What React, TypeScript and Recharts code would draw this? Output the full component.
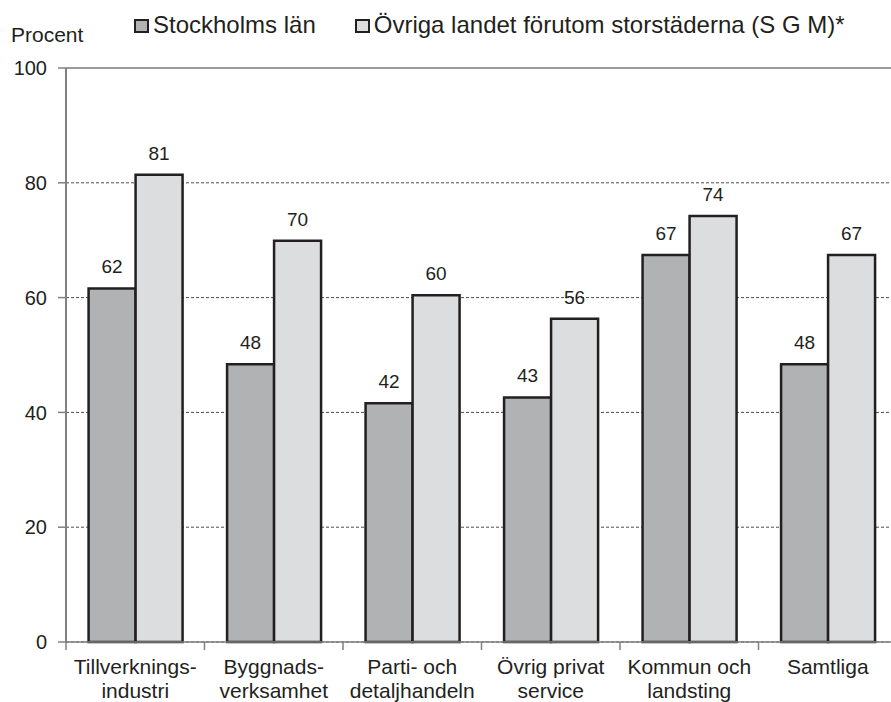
import React from "react"
import {
  Bar,
  BarChart,
  CartesianGrid,
  LabelList,
  Legend,
  ReferenceLine,
  XAxis,
  YAxis,
} from "recharts"

const categories = [
  "Tillverknings-\nindustri",
  "Byggnads-\nverksamhet",
  "Parti- och\ndetaljhandeln",
  "Övrig privat\nservice",
  "Kommun och\nlandsting",
  "Samtliga",
]
const stockholm = [61.6, 48.4, 41.6, 42.6, 67.4, 48.4]
const ovriga = [81.4, 69.9, 60.4, 56.3, 74.2, 67.4]
const yTicks = [0, 20, 40, 60, 80, 100]
const seriesNames = ["Stockholms län", "Övriga landet förutom storstäderna (S G M)*"]

const data = categories.map((c, i) => ({
  category: c,
  stockholm: stockholm[i],
  ovriga: ovriga[i],
}))

const FONT = '"Liberation Sans", Arial, sans-serif'
const INK = "#231f20"
const DARK = "#b1b2b4"
const LIGHT = "#dcdddf"
const AXIS = "#808080"

const W = 900
const H = 702
const MARGIN = { top: 68, right: 3, bottom: 0, left: 0 }
const Y_WIDTH = 66
const BAND = (W - MARGIN.left - MARGIN.right - Y_WIDTH) / categories.length

function CategoryTick(props: any) {
  const { x, y, payload } = props
  const lines = String(payload.value).split("\n")
  return (
    <g>
      <line x1={x - BAND / 2} x2={x - BAND / 2} y1={y} y2={y + 8} stroke={AXIS} strokeWidth={1.5} />
      <text x={x} y={y + 32} textAnchor="middle" fontSize={21} fill={INK} fontFamily={FONT}>
        {lines.map((l, i) => (
          <tspan key={i} x={x} dy={i === 0 ? 0 : 24}>
            {l}
          </tspan>
        ))}
      </text>
    </g>
  )
}

function LegendBox() {
  const fills = [DARK, LIGHT]
  return (
    <div
      style={{
        display: "flex",
        alignItems: "flex-start",
        paddingLeft: 134,
        paddingTop: 13,
        fontFamily: FONT,
        fontSize: 24,
        lineHeight: "24px",
        color: INK,
      }}
    >
      {seriesNames.map((name, i) => (
        <div key={name} style={{ display: "flex", alignItems: "flex-start", marginRight: 39 }}>
          <span
            style={{
              display: "inline-block",
              boxSizing: "border-box",
              width: 15,
              height: 14,
              marginTop: 6,
              marginRight: 4,
              background: fills[i],
              border: `2px solid ${INK}`,
            }}
          />
          <span style={{ whiteSpace: "nowrap" }}>{name}</span>
        </div>
      ))}
    </div>
  )
}

export default function App() {
  return (
    <div
      style={{
        position: "absolute",
        left: 0,
        top: 0,
        width: 891,
        height: 702,
        overflow: "hidden",
        background: "#fff",
      }}
    >
      <BarChart
        width={W}
        height={H}
        data={data}
        margin={MARGIN}
        barCategoryGap="16.3%"
        barGap={0}
        style={{ fontFamily: FONT }}
      >
        <CartesianGrid
          vertical={false}
          stroke="#4a4a4a"
          strokeDasharray="3 2"
          strokeWidth={1}
        />
        <ReferenceLine y={100} stroke="#9a9a9a" strokeWidth={2} />
        <XAxis
          dataKey="category"
          height={60}
          interval={0}
          axisLine={{ stroke: AXIS, strokeWidth: 1.5 }}
          tickLine={false}
          tickSize={0}
          tickMargin={0}
          tick={<CategoryTick />}
        />
        <YAxis
          width={Y_WIDTH}
          domain={[0, 100]}
          ticks={yTicks}
          interval={0}
          axisLine={{ stroke: AXIS, strokeWidth: 2 }}
          tickLine={{ stroke: AXIS, strokeWidth: 1.5 }}
          tickSize={8}
          tickMargin={11}
          tick={{ fontSize: 20, fill: INK, fontFamily: FONT }}
          label={{
            content: () => (
              <text x={11} y={42} fontSize={21} fill={INK} fontFamily={FONT}>
                Procent
              </text>
            ),
          }}
        />
        <Legend
          layout="horizontal"
          verticalAlign="middle"
          align="center"
          content={<LegendBox />}
          wrapperStyle={{ top: 0, left: 0, width: 891 }}
        />
        <Bar
          dataKey="stockholm"
          name={seriesNames[0]}
          fill={DARK}
          stroke={INK}
          strokeWidth={2.5}
          isAnimationActive={false}
        >
          <LabelList
            dataKey="stockholm"
            position="top"
            offset={15}
            formatter={(v: any) => Math.round(Number(v))}
            style={{ fontSize: 19, fill: INK, fontFamily: FONT }}
          />
        </Bar>
        <Bar
          dataKey="ovriga"
          name={seriesNames[1]}
          fill={LIGHT}
          stroke={INK}
          strokeWidth={2.5}
          isAnimationActive={false}
        >
          <LabelList
            dataKey="ovriga"
            position="top"
            offset={15}
            formatter={(v: any) => Math.round(Number(v))}
            style={{ fontSize: 19, fill: INK, fontFamily: FONT }}
          />
        </Bar>
      </BarChart>
    </div>
  )
}
